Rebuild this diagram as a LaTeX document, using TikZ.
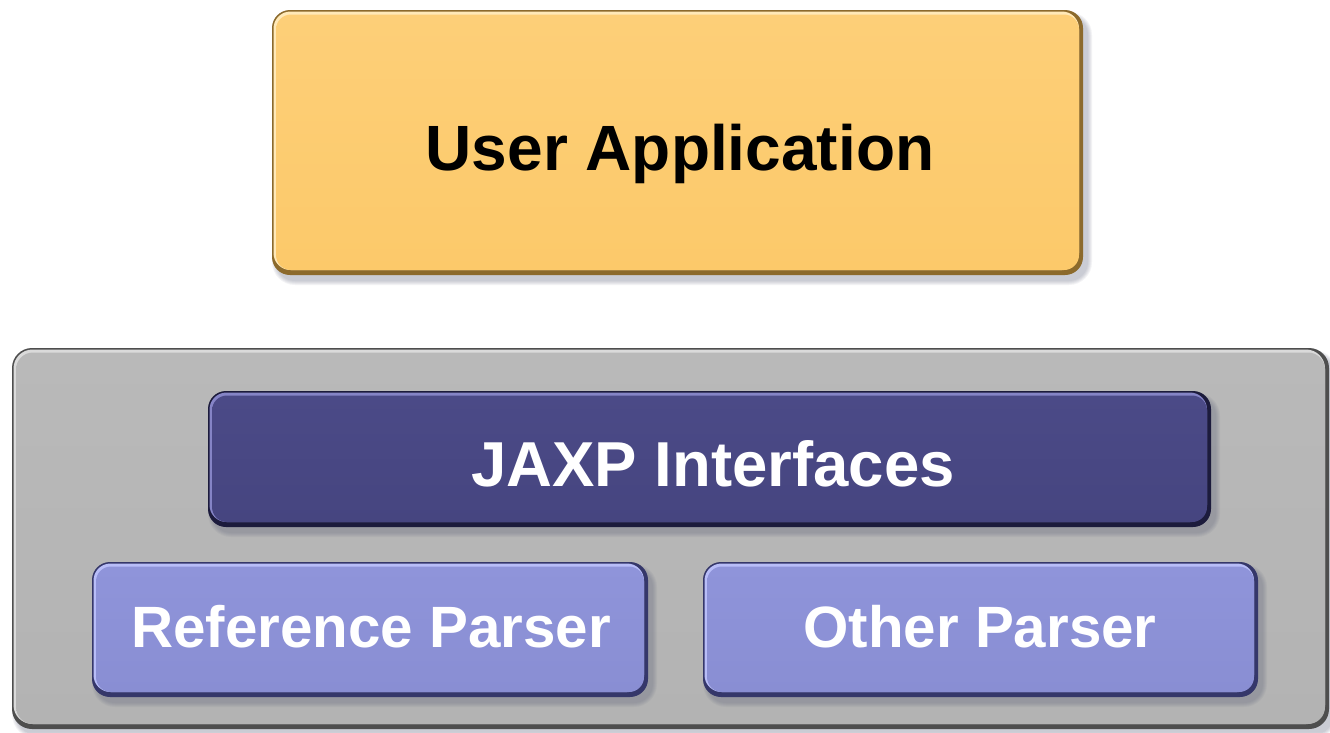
\documentclass[tikz,border=0pt]{standalone}
\usepackage{fontspec}
\setmainfont{Liberation Sans}

% palettes: main fill, top tint, dark rim, light rim
\definecolor{uaMain}{HTML}{FCC96A}
\definecolor{uaTop}{HTML}{FDCF78}
\definecolor{uaEdge}{HTML}{8C6A2C}
\definecolor{uaLight}{HTML}{FFE9B8}
\definecolor{grMain}{HTML}{B3B3B3}
\definecolor{grTop}{HTML}{B9B9B9}
\definecolor{grEdge}{HTML}{4E4E4E}
\definecolor{grLight}{HTML}{DADADA}
\definecolor{jxMain}{HTML}{464580}
\definecolor{jxTop}{HTML}{4B4A87}
\definecolor{jxEdge}{HTML}{1C1B3C}
\definecolor{jxLight}{HTML}{8584C6}
\definecolor{psMain}{HTML}{898ED3}
\definecolor{psTop}{HTML}{8F94DA}
\definecolor{psEdge}{HTML}{35376A}
\definecolor{psLight}{HTML}{B8BDF8}
\definecolor{shadowcol}{HTML}{5A5F78}

\tikzset{
  boxlabel/.style={inner sep=0pt, anchor=base},
}

% \bevelbox{palette}{x1}{y1}{x2}{y2}{radius}
\newcommand\bevelbox[6]{%
  \foreach \i in {1,...,5}{
    \fill[shadowcol, opacity=0.07, rounded corners={#6+\i}]
      ({#2+5-\i},{#3+7-\i}) rectangle ({#4+4+\i},{#5+5+\i});
  }
  \fill[#1Edge, rounded corners=#6] (#2,#3) rectangle (#4,#5);
  \fill[#1Light, rounded corners={#6-1}] ({#2+1.5},{#3+1.5}) rectangle ({#4-4},{#5-5});
  \shade[top color=#1Top, bottom color=#1Main, rounded corners={#6-3}]
    ({#2+4},{#3+4.5}) rectangle ({#4-4},{#5-5});
}

\begin{document}
\begin{tikzpicture}[x=1pt,y=-1pt]
  \useasboundingbox (0,0) rectangle (1330,732);
  \fill[white] (0,0) rectangle (1330,732);

  % top layer: the application
  \bevelbox{ua}{272}{10}{1083}{275}{18}
  \node[boxlabel, font=\bfseries\fontsize{64}{70}\selectfont, text=black]
    (app) at (680,170) {User Application};

  % platform container
  \bevelbox{gr}{12}{348}{1329}{729}{20}
  \coordinate (platform) at (670,540);

  % interface layer
  \bevelbox{jx}{208}{391}{1211}{527}{18}
  \node[boxlabel, font=\bfseries\fontsize{63.5}{70}\selectfont, text=white]
    (jaxp) at (713,486) {JAXP Interfaces};

  % parser implementations
  \bevelbox{ps}{92}{562}{648}{697}{18}
  \node[boxlabel, font=\bfseries\fontsize{58.3}{64}\selectfont, text=white]
    (refparser) at (371,647) {Reference Parser};

  \bevelbox{ps}{703}{562}{1258}{697}{18}
  \node[boxlabel, font=\bfseries\fontsize{58.3}{64}\selectfont, text=white]
    (otherparser) at (980,647) {Other Parser};
\end{tikzpicture}
\end{document}
